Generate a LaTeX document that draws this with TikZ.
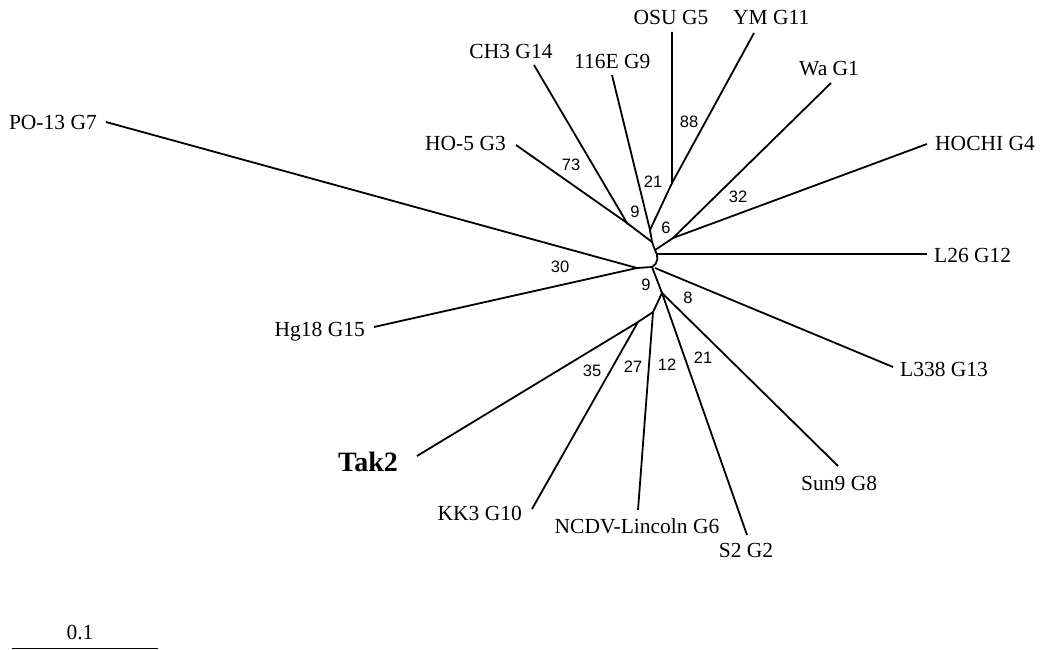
\documentclass[tikz,border=0pt]{standalone}
\usepackage{fontspec}
\setmainfont{Liberation Serif}
\newfontfamily\labelsans{Liberation Sans}
\begin{document}
\begin{tikzpicture}[x=1pt,y=-1pt,
  branch/.style={line width=1.8pt},
  leaf/.style={inner sep=0pt,font=\fontsize{21.5}{24}\selectfont},
  boot/.style={inner sep=0pt,font=\labelsans\fontsize{16.5}{18}\selectfont}]
\useasboundingbox (0,0) rectangle (1041,650);
% internal nodes
\coordinate (P) at (637,268);
\coordinate (Q) at (652,267);
\coordinate (Lt) at (657,254);
\coordinate (Yp) at (655,250);
\coordinate (W) at (652,242);
\coordinate (X) at (650,230);
\coordinate (OY) at (672,183);
\coordinate (V) at (627,223);
\coordinate (Y) at (673,238);
\coordinate (R) at (662,293);
\coordinate (T) at (653,312);
\coordinate (U) at (638,322);
\coordinate (Ls) at (655,268);
% tips
\coordinate (tPO) at (106,122);
\coordinate (tHg) at (374,327);
\coordinate (tHO) at (516,145);
\coordinate (tCH) at (534,65);
\coordinate (tE) at (612,75);
\coordinate (tOSU) at (672,32);
\coordinate (tYM) at (754,33);
\coordinate (tWa) at (831,83);
\coordinate (tHOCHI) at (927,144);
\coordinate (tL26) at (927,254);
\coordinate (tL338) at (893,367);
\coordinate (tSun) at (838,466);
\coordinate (tS2) at (747,535);
\coordinate (tNC) at (638,510);
\coordinate (tKK) at (532,509);
\coordinate (tTak) at (417,456);
% branches
\draw[branch] (tPO) -- (P) -- (tHg);
\draw[branch] (P) -- (Q);
\draw[branch] (W) -- (Yp) .. controls (659,256) and (658,264) .. (Q);
\draw[branch] (Lt) -- (tL26);
\draw[branch] (Yp) -- (Y);
\draw[branch] (tWa) -- (Y) -- (tHOCHI);
\draw[branch] (W) -- (X);
\draw[branch] (tE) -- (X) -- (OY);
\draw[branch] (tOSU) -- (OY) -- (tYM);
\draw[branch] (W) -- (V);
\draw[branch] (tHO) -- (V) -- (tCH);
\draw[branch] (Ls) -- (tL338);
\draw[branch] (Q) -- (R);
\draw[branch] (tSun) -- (R) -- (tS2);
\draw[branch] (R) -- (T) -- (tNC);
\draw[branch] (T) -- (U);
\draw[branch] (tTak) -- (U) -- (tKK);
% leaf labels
\node[leaf,anchor=base east] (lPO) at (97,129) {PO-13 G7};
\node[leaf,anchor=base] (lCH) at (511,59) {CH3 G14};
\node[leaf,anchor=base west] (lE) at (574,69) {116E G9};
\node[leaf,anchor=base] (lOSU) at (671,25) {OSU G5};
\node[leaf,anchor=base west] (lYM) at (733,25) {YM G11};
\node[leaf,anchor=base west] (lWa) at (799,76) {Wa G1};
\node[leaf,anchor=base west] (lHOCHI) at (935,150) {HOCHI G4};
\node[leaf,anchor=base east] (lHO) at (506,150) {HO-5 G3};
\node[leaf,anchor=base west] (lL26) at (934,262) {L26 G12};
\node[leaf,anchor=base west] (lL338) at (900,376) {L338 G13};
\node[leaf,anchor=base east] (lHg) at (365,336) {Hg18 G15};
\node[inner sep=0pt,font=\fontsize{28}{30}\selectfont\bfseries,anchor=base east] (lTak) at (398,471) {Tak2};
\node[leaf,anchor=base east] (lKK) at (522,520) {KK3 G10};
\node[leaf,anchor=base] (lNC) at (637,533) {NCDV-Lincoln G6};
\node[leaf,anchor=base] (lS2) at (746,557) {S2 G2};
\node[leaf,anchor=base west] (lSun) at (801,490) {Sun9 G8};
% bootstrap values
\node[boot] (b88) at (689,122) {88};
\node[boot] (b21a) at (653,182) {21};
\node[boot] (b73) at (571,165) {73};
\node[boot] (b9a) at (635,212) {9};
\node[boot] (b6) at (666,228) {6};
\node[boot] (b32) at (738,197) {32};
\node[boot] (b30) at (560,267) {30};
\node[boot] (b9b) at (646,285) {9};
\node[boot] (b8) at (688,298) {8};
\node[boot] (b35) at (592,371) {35};
\node[boot] (b27) at (633,367) {27};
\node[boot] (b12) at (667,365) {12};
\node[boot] (b21b) at (703,358) {21};
% scale bar
\node[leaf] (sc) at (80,632) {0.1};
\coordinate (s0) at (12,648.5);
\coordinate (s1) at (158,648.5);
\draw[line width=1.8pt] (s0) -- (s1);
\end{tikzpicture}
\end{document}
